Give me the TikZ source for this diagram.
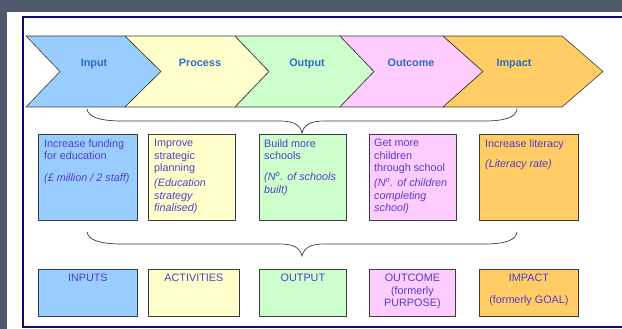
\documentclass[tikz,border=0pt]{standalone}
\usepackage{fontspec}
\setmainfont{Liberation Sans}
\usepackage{xcolor}
\definecolor{slate}{RGB}{78,90,107}
\definecolor{navy}{RGB}{12,12,120}
\definecolor{edgegray}{RGB}{60,60,60}
\definecolor{headblue}{RGB}{44,107,201}
\definecolor{txtblue}{RGB}{84,62,200}
\definecolor{inblue}{RGB}{153,204,255}
\definecolor{acyellow}{RGB}{255,255,204}
\definecolor{outgreen}{RGB}{204,255,204}
\definecolor{ocpink}{RGB}{255,204,255}
\definecolor{imorange}{RGB}{255,204,102}

\begin{document}
\begin{tikzpicture}[x=1pt,y=-1pt,
    chev/.style={draw=edgegray,line width=0.6pt},
    head/.style={anchor=base,text=headblue,font=\bfseries\fontsize{10.8}{12.5}\selectfont},
    box/.style={draw=edgegray,line width=0.8pt,anchor=north west,inner sep=0pt},
    txt/.style={anchor=north west,inner sep=0pt,align=left,text=txtblue,font=\fontsize{10.8}{12.5}\selectfont},
    lab/.style={anchor=north,inner sep=0pt,align=center,text=txtblue,font=\fontsize{10.8}{12.5}\selectfont},
    brace/.style={draw=edgegray,line width=0.7pt}]
        \useasboundingbox (0,0) rectangle (622,329);
        \clip (0,0) rectangle (622,329);
        % background
        \fill[slate] (0,0) rectangle (622,329);
        \fill[white] (7,12) rectangle (640,340);
        \draw[navy,line width=2pt] (23,17) rectangle (660,327);

        % chevrons
        \filldraw[chev,fill=inblue] (26,36) -- (125,36) -- (161,71.5) -- (125,107) -- (26,107) -- (60,71.5) -- cycle;
        \filldraw[chev,fill=acyellow] (125,36) -- (235,36) -- (269,71.5) -- (235,107) -- (125,107) -- (161,71.5) -- cycle;
        \filldraw[chev,fill=outgreen] (235,36) -- (340,36) -- (374,71.5) -- (340,107) -- (235,107) -- (269,71.5) -- cycle;
        \filldraw[chev,fill=ocpink] (340,36) -- (443,36) -- (483,71.5) -- (443,107) -- (340,107) -- (374,71.5) -- cycle;
        \filldraw[chev,fill=imorange] (443,36) -- (562,36) -- (603,71.5) -- (562,107) -- (443,107) -- (483,71.5) -- cycle;

        \node[head] (input) at (94,66.5) {Input};
        \node[head] (process) at (200,66.5) {Process};
        \node[head] (output) at (307,66.5) {Output};
        \node[head] (outcome) at (411,66.5) {Outcome};
        \node[head] (impact) at (514,66.5) {Impact};

        % braces
        \draw[brace] (87,109) .. controls (88,117) and (100,121) .. (122,121) -- (280,121)
            .. controls (294,121) and (300,125) .. (302,133)
            .. controls (304,125) and (310,121) .. (324,121) -- (484,121)
            .. controls (506,121) and (516,117) .. (517,109);
        \draw[brace] (87,232) .. controls (88,240) and (100,244) .. (122,244) -- (280,244)
            .. controls (294,244) and (300,248) .. (302,256)
            .. controls (304,248) and (310,244) .. (324,244) -- (484,244)
            .. controls (506,244) and (516,240) .. (517,232);

        % examples
        \node[box,fill=inblue,minimum width=99pt,minimum height=86pt] (fund) at (38,134) {};
        \node[box,fill=acyellow,minimum width=87pt,minimum height=86pt] (plan) at (148,134) {};
        \node[box,fill=outgreen,minimum width=87pt,minimum height=86pt] (build) at (259,134) {};
        \node[box,fill=ocpink,minimum width=87pt,minimum height=86pt] (children) at (369,134) {};
        \node[box,fill=imorange,minimum width=99pt,minimum height=86pt] (literacy) at (479,134) {};

        \node[txt] (fundtxt) at ([xshift=6pt,yshift=-5pt]fund.north west)
            {Increase funding\\for education\\[9.5pt]\textit{(£ million / 2 staff)}};
        \node[txt] (plantxt) at ([xshift=6pt,yshift=-5pt]plan.north west)
            {Improve\\strategic\\planning\\[2.5pt]\textit{(Education}\\\textit{strategy}\\\textit{finalised)}};
        \node[txt] (buildtxt) at ([xshift=5pt,yshift=-5pt]build.north west)
            {Build more\\schools\\[8.5pt]\textit{(N\textsuperscript{o}. of schools}\\\textit{built)}};
        \node[txt] (childrentxt) at ([xshift=5pt,yshift=-5pt]children.north west)
            {Get more\\children\\through school\\[2.5pt]\textit{(N\textsuperscript{o}. of children}\\\textit{completing}\\\textit{school)}};
        \node[txt] (literacytxt) at ([xshift=6pt,yshift=-5pt]literacy.north west)
            {Increase literacy\\[7.5pt]\textit{(Literacy rate)}};

        % levels
        \node[box,fill=inblue,minimum width=99pt,minimum height=47pt] (inputs) at (38,269) {};
        \node[box,fill=acyellow,minimum width=91pt,minimum height=47pt] (activities) at (148,269) {};
        \node[box,fill=outgreen,minimum width=87pt,minimum height=47pt] (outputs) at (259,269) {};
        \node[box,fill=ocpink,minimum width=86pt,minimum height=47pt] (outcomes) at (369,269) {};
        \node[box,fill=imorange,minimum width=99pt,minimum height=47pt] (impacts) at (479,269) {};

        \node[lab] (inputslab) at ([yshift=-5pt]inputs.north) {INPUTS};
        \node[lab] (activitieslab) at ([yshift=-5pt]activities.north) {ACTIVITIES};
        \node[lab] (outputslab) at ([yshift=-5pt]outputs.north) {OUTPUT};
        \node[lab] (outcomeslab) at ([yshift=-5pt]outcomes.north) {OUTCOME\\(formerly\\PURPOSE)};
        \node[lab] (impactslab) at ([yshift=-5pt]impacts.north) {IMPACT\\[9.5pt](formerly GOAL)};
    \end{tikzpicture}
\end{document}
